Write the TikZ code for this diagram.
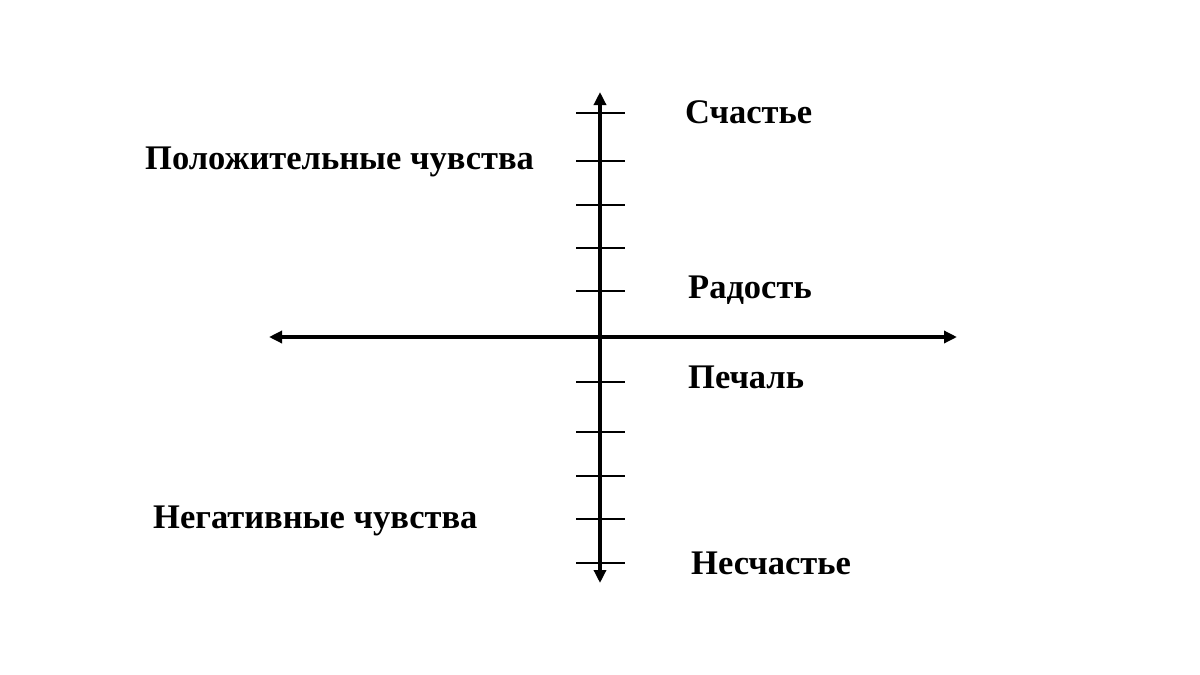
\documentclass[tikz,border=0pt]{standalone}
\usepackage{fontspec}
\setmainfont{Liberation Serif}
\usepackage{tikz}
\usetikzlibrary{arrows.meta}

\tikzset{
  axis/.style={line width=3.5pt,-{Triangle[length=13pt,width=12pt]}},
  tick/.style={line width=2.2pt},
  lbl/.style={anchor=base west,inner sep=0pt,font=\fontsize{34.5}{40}\selectfont\bfseries}
}

\begin{document}
\begin{tikzpicture}[x=1pt,y=-1pt]
\useasboundingbox (0,0) rectangle (1200,675);

\coordinate (top) at (600,92);
\coordinate (bottom) at (600,583);
\coordinate (left) at (269,337);
\coordinate (right) at (957,337);
\coordinate (o) at (600,337);

\draw[axis](o)--(top);
\draw[axis](o)--(bottom);
\draw[axis](o)--(left);
\draw[axis](o)--(right);

\draw[tick](576,113)--(625,113);
\draw[tick](576,161)--(625,161);
\draw[tick](576,205)--(625,205);
\draw[tick](576,248)--(625,248);
\draw[tick](576,291)--(625,291);
\draw[tick](576,382)--(625,382);
\draw[tick](576,432)--(625,432);
\draw[tick](576,476)--(625,476);
\draw[tick](576,519)--(625,519);
\draw[tick](576,563)--(625,563);

\node[lbl](happy) at (685,123) {Счастье};
\node[lbl](pos) at (145,169) {Положительные чувства};
\node[lbl](joy) at (688,298) {Радость};
\node[lbl](sad) at (688,388) {Печаль};
\node[lbl](neg) at (153,528) {Негативные чувства};
\node[lbl](unhappy) at (691,574) {Несчастье};

\end{tikzpicture}
\end{document}
